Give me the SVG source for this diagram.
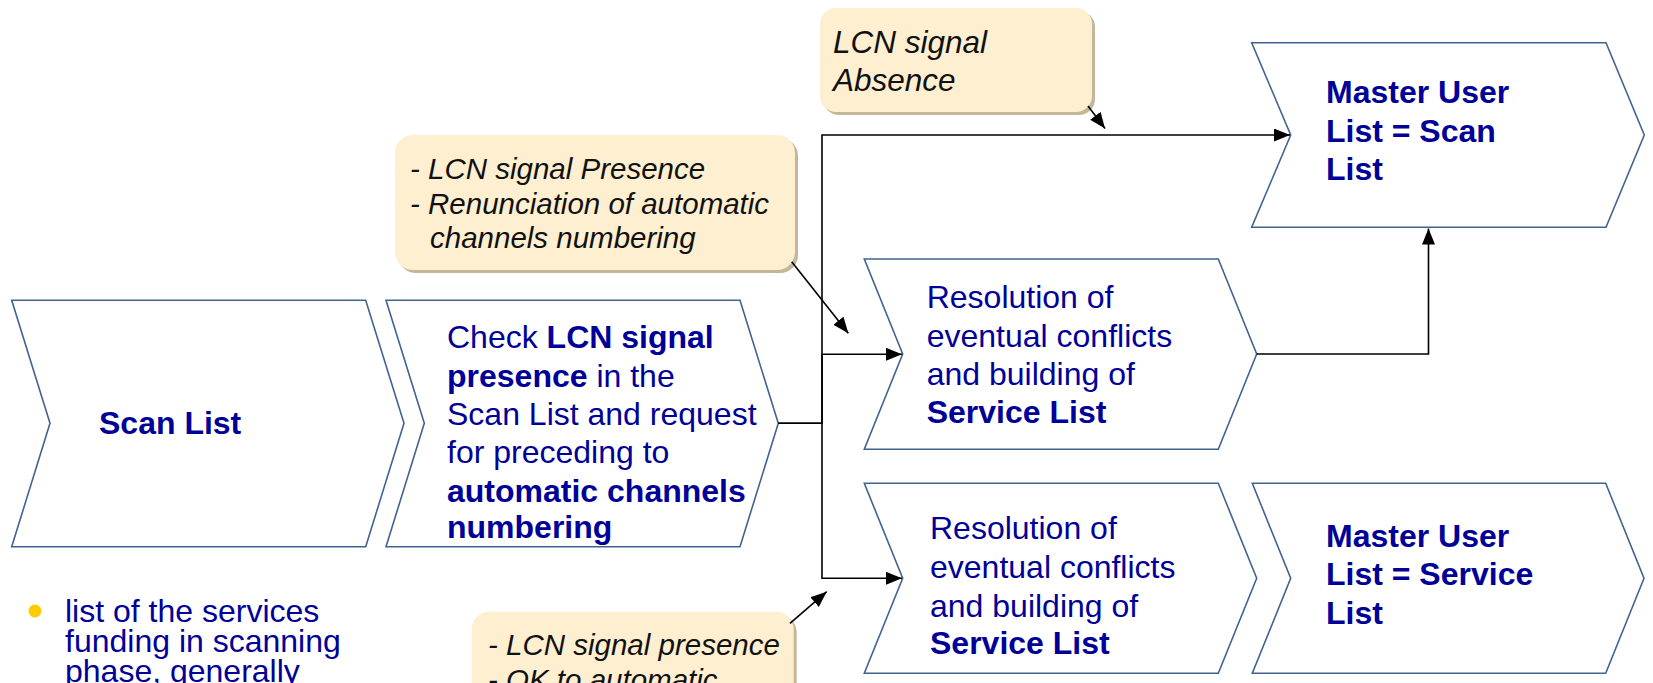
<svg xmlns="http://www.w3.org/2000/svg" width="1653" height="683" viewBox="0 0 1653 683">
<defs>
<style>
.chev{fill:#ffffff;stroke:#41638f;stroke-width:1.6;stroke-linejoin:miter}
.t{font-family:"Liberation Sans",Arial,sans-serif;font-size:32px;fill:#000099}
.b{font-weight:bold}
.call{fill:#fdefd0}
.shadow{fill:#b9a988;opacity:0.85}
.ct{font-family:"Liberation Sans",Arial,sans-serif;font-style:italic;fill:#111111}
.conn{fill:none;stroke:#000000;stroke-width:1.6}
</style>
<marker id="arr" markerUnits="userSpaceOnUse" markerWidth="18" markerHeight="14" refX="16" refY="6.5" orient="auto">
<path d="M0,0 L16,6.5 L0,13 z" fill="#000000"/>
</marker>
</defs>
<rect width="1653" height="683" fill="#ffffff"/>

<g id="scan-list">
<polygon class="chev" points="11.7,300.3 365.7,300.3 404,423.3 365.7,546.7 11.7,546.7 50,423.3"/>
<text class="t b" x="99" y="434">Scan List</text>
</g>

<g id="check-lcn">
<polygon class="chev" points="386,300.3 740,300.3 778.3,423.3 740,546.7 386,546.7 424.3,423.3"/>
<text class="t" x="447" y="348.3">Check <tspan class="b">LCN signal</tspan></text>
<text class="t" x="447" y="386.7"><tspan class="b">presence</tspan> in the</text>
<text class="t" x="447" y="425">Scan List and request</text>
<text class="t" x="447" y="463.3">for preceding to</text>
<text class="t b" x="447" y="501.7">automatic channels</text>
<text class="t b" x="447" y="538">numbering</text>
</g>

<g id="master-scan">
<polygon class="chev" points="1251.7,42.7 1606,42.7 1644.3,135 1606,227.3 1251.7,227.3 1290.7,135"/>
<text class="t b" x="1326" y="103.3">Master User</text>
<text class="t b" x="1326" y="141.5">List = Scan</text>
<text class="t b" x="1326" y="180.3">List</text>
</g>

<g id="resolution-1">
<polygon class="chev" points="864.3,259 1218.3,259 1256.7,354 1218.3,449.3 864.3,449.3 902.7,354"/>
<text class="t" x="926.7" y="308.3">Resolution of</text>
<text class="t" x="926.7" y="346.7">eventual conflicts</text>
<text class="t" x="926.7" y="385">and building of</text>
<text class="t b" x="926.7" y="423.3">Service List</text>
</g>

<g id="resolution-2">
<polygon class="chev" points="864.3,483.3 1218.3,483.3 1256.7,578.3 1218.3,673.3 864.3,673.3 902.7,578.3"/>
<text class="t" x="930" y="539.3">Resolution of</text>
<text class="t" x="930" y="578.3">eventual conflicts</text>
<text class="t" x="930" y="616.7">and building of</text>
<text class="t b" x="930" y="654.3">Service List</text>
</g>

<g id="master-service">
<polygon class="chev" points="1252.3,483.3 1605.7,483.3 1644,578.3 1605.7,673.3 1252.3,673.3 1290.7,578.3"/>
<text class="t b" x="1326" y="546.7">Master User</text>
<text class="t b" x="1326" y="585">List = Service</text>
<text class="t b" x="1326" y="624">List</text>
</g>

<g id="callout-absence">
<rect class="shadow" x="823" y="11" width="272" height="104" rx="16"/>
<rect class="call" x="820" y="8" width="272" height="104" rx="16"/>
<text class="ct" font-size="31.5" x="833" y="53.3">LCN signal</text>
<text class="ct" font-size="31.5" x="833" y="90.7">Absence</text>
</g>

<g id="callout-renunciation">
<rect class="shadow" x="398" y="138" width="400" height="135" rx="18"/>
<rect class="call" x="395" y="135" width="400" height="135" rx="18"/>
<text class="ct" font-size="29.5" x="410" y="179">- LCN signal Presence</text>
<text class="ct" font-size="29.5" x="410" y="213.5">- Renunciation of automatic</text>
<text class="ct" font-size="29.5" x="430" y="248">channels numbering</text>
</g>

<g id="callout-ok">
<rect class="shadow" x="474.7" y="614.7" width="322" height="110" rx="18"/>
<rect class="call" x="471.7" y="611.7" width="322" height="110" rx="18"/>
<text class="ct" font-size="29.5" x="488" y="655">- LCN signal presence</text>
<text class="ct" font-size="29.5" x="488" y="690">- OK to automatic</text>
</g>

<g id="bullet-note">
<circle cx="35" cy="611" r="6.5" fill="#ffcc00"/>
<text class="t" font-size="31.5" x="65" y="621.7">list of the services</text>
<text class="t" font-size="31.5" x="65" y="651.7">funding in scanning</text>
<text class="t" font-size="31.5" x="65" y="681.7">phase, generally</text>
</g>

<g id="connectors">
<path class="conn" d="M778.3,423.3 H822 V135 H1290" marker-end="url(#arr)"/>
<path class="conn" d="M822,354.3 H902" marker-end="url(#arr)"/>
<path class="conn" d="M822,423.3 V578.3 H902" marker-end="url(#arr)"/>
<path class="conn" d="M778.3,423.3 H822 V354.3" stroke-width="3.2"/>
<path class="conn" d="M1256.7,354 H1428.5 V228.5" marker-end="url(#arr)"/>
<path class="conn" d="M1088,106 L1105,128.5" marker-end="url(#arr)"/>
<path class="conn" d="M791.7,261.7 L848.3,333.3" marker-end="url(#arr)"/>
<path class="conn" d="M790,623.3 L826.7,591.7" marker-end="url(#arr)"/>
</g>
</svg>
